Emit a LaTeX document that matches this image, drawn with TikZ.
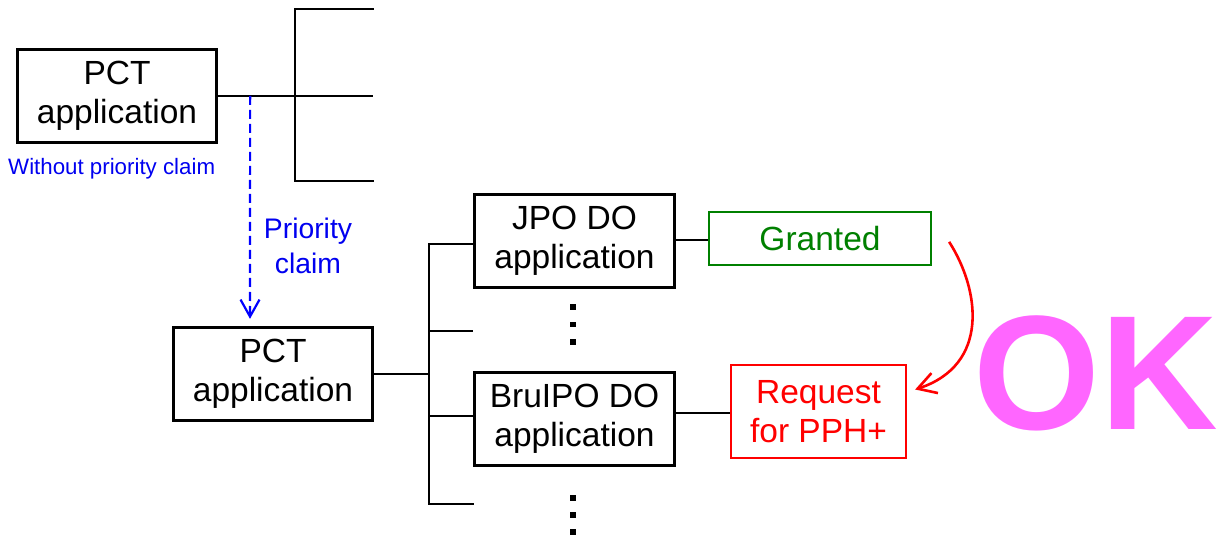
\documentclass[tikz,border=0pt]{standalone}
\usepackage{fontspec}
\setmainfont{Liberation Sans}
\usetikzlibrary{arrows.meta,calc}
\definecolor{okpink}{RGB}{255,102,255}
\definecolor{grn}{RGB}{0,128,0}
\definecolor{bluetxt}{RGB}{0,0,240}
\begin{document}
\begin{tikzpicture}[x=1pt,y=-1pt,
  box/.style={draw=black, line width=2.8pt, align=center, inner sep=0pt,
    minimum width=199.5pt, minimum height=93.5pt, font=\fontsize{33.5}{39}\selectfont},
  greenbox/.style={draw=grn, text=grn, line width=1.8pt, inner sep=0pt,
    minimum width=222.5pt, minimum height=53.5pt, font=\fontsize{33.5}{39}\selectfont},
  redbox/.style={draw=red, text=red, line width=1.8pt, align=center, inner sep=0pt,
    minimum width=175.5pt, minimum height=93.5pt, font=\fontsize{33.5}{39}\selectfont},
  wire/.style={draw=black, line width=2.9pt},
  prio/.style={draw=blue, line width=2.2pt, dash pattern=on 9pt off 5pt,
    -{Straight Barb[length=17pt,width=19pt,line width=2.2pt]}},
  okarrow/.style={draw=red, line width=2.6pt,
    -{Straight Barb[length=18pt,width=21pt,line width=2.6pt]}},
  dotmark/.style={fill=black},
]
\useasboundingbox (0,0) rectangle (1219,540);

% top PCT application
\node[box] (pct1) at (117,96) {PCT\\application};
\node[text=bluetxt, anchor=base west, inner sep=0pt, font=\fontsize{22.3}{26}\selectfont]
  (noprio) at (8,175) {Without priority claim};

\coordinate (bus1) at (295,96);
\coordinate (bus1top) at (295,9);
\coordinate (bus1bot) at (295,181);
\coordinate (br1a) at (373,9);
\coordinate (br1b) at (373,96);
\coordinate (br1c) at (373,181);
\draw[wire] (pct1.east) -- (bus1);
\draw[wire, line cap=rect] (br1a) -- (bus1top) -- (bus1bot) -- (br1c);
\draw[wire] (bus1) -- (br1b);

% lower PCT application
\node[box] (pct2) at (273,374) {PCT\\application};

% priority claim arrow
\coordinate (pstart) at ($(pct1.east)+(32,0)$);
\coordinate (pend) at ($(pct2.north)+(-23,-7)$);
\draw[prio] (pstart) -- (pend);
\node[text=bluetxt, align=center, inner sep=0pt, font=\fontsize{28.3}{35}\selectfont]
  (prioclaim) at (308,246) {Priority\\claim};

% DO applications
\node[box] (jpo) at (574.5,241) {JPO DO\\application};
\node[box] (bru) at (574.5,419) {BruIPO DO\\application};

\coordinate (jpoin) at ($(jpo.west)+(0,3)$);
\coordinate (jpoout) at ($(jpo.east)+(0,-1)$);
\coordinate (bruin) at ($(bru.west)+(0,-3)$);
\coordinate (bruout) at ($(bru.east)+(0,-6)$);
\coordinate (bus2) at (429,374);
\coordinate (bus2top) at (429,244);
\coordinate (bus2bot) at (429,504);
\coordinate (br2b) at (473,331);
\coordinate (br2d) at (473,504);
\coordinate (bus2b) at (429,331);
\coordinate (bus2c) at (429,416);
\draw[wire] (pct2.east) -- (bus2);
\draw[wire, line cap=rect] (jpoin) -- (bus2top) -- (bus2bot) -- (br2d);
\draw[wire] (bus2b) -- (br2b);
\draw[wire] (bus2c) -- (bruin);

% vertical ellipses
\foreach \yy in {307,324.5,342,498,515,532}{
  \fill[dotmark] (570.4,\yy-2.6) rectangle ++(5.2,5.2);
}

% results
\node[greenbox] (granted) at (820,238.5) {Granted};
\node[redbox] (request) at (818.5,411.5) {Request\\for PPH+};
\draw[wire] (jpoout) -- (jpoout -| granted.west);
\draw[wire] (bruout) -- (bruout -| request.west);

% curved arrow
\coordinate (cstart) at ($(granted.north east)+(17,31)$);
\coordinate (cend) at ($(request.east)+(8,-22)$);
\draw[okarrow] (cstart) .. controls (980,290) and (990,365) .. (cend);

% OK
\node[text=okpink, anchor=base east, inner sep=0pt, font=\fontsize{163}{170}\selectfont\bfseries]
  (ok) at (1218,429) {OK};
\end{tikzpicture}
\end{document}
